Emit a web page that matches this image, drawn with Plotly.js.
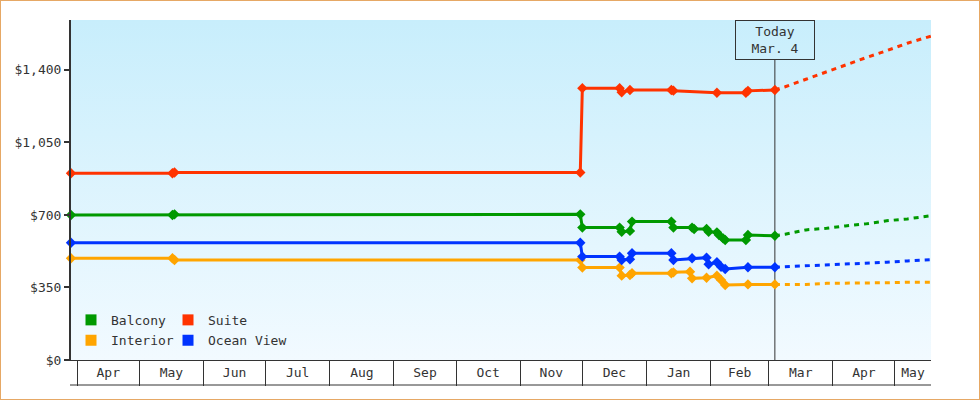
<!DOCTYPE html>
<html><head><meta charset="utf-8">
<script src="https://cdn.plot.ly/plotly-3.0.1.min.js"></script>
<style>
html,body{margin:0;padding:0;background:#fff;}
#chart{width:980px;height:400px;box-sizing:border-box;border:1px solid #e6a865;}
</style></head><body><div id="chart"></div>
<script>
// ---- data ----
const X_RANGE = ['2014-03-29', '2015-05-18 10:00'];
const TODAY = '2015-03-04';
const TODAY_LABEL = 'Today<br>Mar. 4';

const MONTH_STARTS = ['2014-04-01','2014-05-01','2014-06-01','2014-07-01','2014-08-01','2014-09-01','2014-10-01','2014-11-01','2014-12-01','2015-01-01','2015-02-01','2015-03-01','2015-04-01','2015-05-01','2015-06-01'];
const MONTH_LABELS = ['Apr','May','Jun','Jul','Aug','Sep','Oct','Nov','Dec','Jan','Feb','Mar','Apr','May'];

const SERIES_NAMES = ['Balcony','Suite','Interior','Ocean View'];
const SERIES_COLORS = ['#009900','#ff3300','#ffa500','#0033ff'];

const suiteDates = ['2014-03-29','2014-05-17','2014-05-18','2014-11-30','2014-12-01','2014-12-19','2014-12-20','2014-12-24','2015-01-13','2015-01-14','2015-02-04','2015-02-18','2015-02-19','2015-03-04'];
const suiteValues = [901,901,905,905,1312,1312,1292,1303,1303,1300,1290,1290,1299,1303];

const balconyDates = ['2014-03-29','2014-05-17','2014-05-18','2014-11-30','2014-12-01','2014-12-19','2014-12-20','2014-12-24','2014-12-25','2015-01-13','2015-01-14','2015-01-23','2015-01-24','2015-01-30','2015-01-31','2015-02-04','2015-02-05','2015-02-07','2015-02-08','2015-02-18','2015-02-19','2015-03-04'];
const balconyValues = [700,700,703,703,639,639,619,623,668,668,639,639,632,632,619,616,603,587,579,579,603,600];

const oceanDates = ['2014-03-29','2014-11-30','2014-12-01','2014-12-19','2014-12-20','2014-12-24','2014-12-25','2015-01-13','2015-01-14','2015-01-23','2015-01-30','2015-01-31','2015-02-04','2015-02-06','2015-02-08','2015-02-19','2015-03-04'];
const oceanValues = [566,566,499,499,483,486,515,515,483,491,494,462,472,450,439,448,448];

const interiorDates = ['2014-03-29','2014-05-17','2014-05-18','2014-11-30','2014-12-01','2014-12-19','2014-12-20','2014-12-24','2014-12-25','2015-01-13','2015-01-14','2015-01-22','2015-01-23','2015-01-30','2015-02-04','2015-02-06','2015-02-08','2015-02-19','2015-03-04'];
const interiorValues = [491,491,483,483,446,446,407,410,419,419,423,426,394,397,407,386,362,365,365];

const forecastDates = ['2015-03-04','2015-03-09','2015-03-19','2015-03-29','2015-04-07','2015-04-17','2015-04-27','2015-05-07','2015-05-19'];
const suiteForecast    = [1303,1319,1355,1392,1424,1459,1493,1529,1565];
const balconyForecast  = [600,607,628,636,647,657,672,681,697];
const oceanForecast    = [448,450,454,459,463,467,472,478,484];
const interiorForecast = [365,365,365,370,370,370,373,375,375];

// ---- build ----
const FONT = {family:'"DejaVu Sans Mono", monospace', size:13, color:'#333'};
const hist = [
  {d:balconyDates, v:balconyValues, f:balconyForecast, c:SERIES_COLORS[0]},
  {d:suiteDates, v:suiteValues, f:suiteForecast, c:SERIES_COLORS[1]},
  {d:interiorDates, v:interiorValues, f:interiorForecast, c:SERIES_COLORS[2]},
  {d:oceanDates, v:oceanValues, f:oceanForecast, c:SERIES_COLORS[3]}
];
const traces = [];
hist.forEach(s => {
  traces.push({x:forecastDates, y:s.f, type:'scatter', mode:'lines', showlegend:false, hoverinfo:'skip',
    line:{color:s.c, width:3, dash:'5px,5px'}});
});
hist.forEach(s => {
  traces.push({x:s.d, y:s.v, type:'scatter', mode:'lines+markers', showlegend:false, cliponaxis:false,
    line:{color:s.c, width:3}, marker:{symbol:'diamond', size:8, color:s.c}});
});
const LEGEND_IDS = ['legend','legend2','legend3','legend4'];
SERIES_NAMES.forEach((n,i) => {
  traces.push({x:[null], y:[null], type:'scatter', mode:'markers', name:n,
    legend: LEGEND_IDS[i],
    marker:{symbol:'square', size:11, color:SERIES_COLORS[i]}});
});

// month label positions: middle of visible part of each month
const toMs = s => Date.parse(s.replace(' ','T') + (s.length > 10 ? ':00Z' : 'T00:00:00Z'));
const t0 = toMs(X_RANGE[0]), t1 = toMs(X_RANGE[1]);
const tickvals = [];
for (let i = 0; i < MONTH_LABELS.length; i++) {
  const a = Math.max(toMs(MONTH_STARTS[i]), t0);
  const b = Math.min(toMs(MONTH_STARTS[i+1]), t1);
  tickvals.push(new Date((a+b)/2).toISOString().slice(0,19).replace('T',' '));
}

const svg = "<svg xmlns='http://www.w3.org/2000/svg' width='10' height='100' preserveAspectRatio='none'><defs><linearGradient id='g' x1='0' y1='0' x2='0' y2='1'><stop offset='0' stop-color='#c8eefc'/><stop offset='1' stop-color='#f2faff'/></linearGradient></defs><rect width='10' height='100' fill='url(#g)'/></svg>";

function legendAt(x, y) {
  return {orientation:'v', x:x, y:y, xanchor:'left', yanchor:'top', bgcolor:'rgba(0,0,0,0)', font:FONT,
    itemclick:false, itemdoubleclick:false};
}

const layout = {
  width:978, height:398,
  margin:{l:70, r:48, t:19, b:39},
  paper_bgcolor:'#ffffff', plot_bgcolor:'rgba(0,0,0,0)',
  font:FONT,
  images:[{source:'data:image/svg+xml;charset=utf-8,'+encodeURIComponent(svg), xref:'paper', yref:'paper',
    x:0, y:1, sizex:1, sizey:1, sizing:'stretch', layer:'below', xanchor:'left', yanchor:'top'}],
  xaxis:{type:'date', range:X_RANGE, showgrid:false, zeroline:false, showline:true, linecolor:'#333', linewidth:1,
    tickmode:'array', tickvals:tickvals, ticktext:MONTH_LABELS, ticks:'', ticklabelstandoff:0, tickfont:FONT,
    minor:{tick0:'2014-04-01', dtick:'M1', ticks:'outside', ticklen:25, tickwidth:1, tickcolor:'#333', showgrid:false}},
  yaxis:{range:[0,1641], tick0:0, dtick:350, tickprefix:'$', tickformat:',d', showgrid:false, zeroline:false,
    showline:true, linecolor:'#333', linewidth:2, ticks:'outside', ticklen:5, tickwidth:2, tickcolor:'#333', tickfont:FONT},
  legend:  legendAt(0.0,    0.162),
  legend2: legendAt(0.1128, 0.162),
  legend3: legendAt(0.0,    0.102),
  legend4: legendAt(0.1128, 0.102),
  shapes:[
    {type:'line', xref:'x', yref:'paper', x0:TODAY, x1:TODAY, y0:0, y1:(340-40)/340, line:{color:'#333', width:1}, layer:'below'},
    {type:'line', xref:'paper', yref:'paper', x0:-1/860, x1:1, y0:-25/340, y1:-25/340, line:{color:'#333', width:1}}
  ],
  annotations:[{x:TODAY, xref:'x', y:1, yref:'paper', xanchor:'center', yanchor:'top', text:TODAY_LABEL, showarrow:false,
    bordercolor:'#333', borderwidth:1, borderpad:0, width:78, height:38, font:FONT}]
};
Plotly.newPlot('chart', traces, layout, {staticPlot:true});
</script></body></html>
